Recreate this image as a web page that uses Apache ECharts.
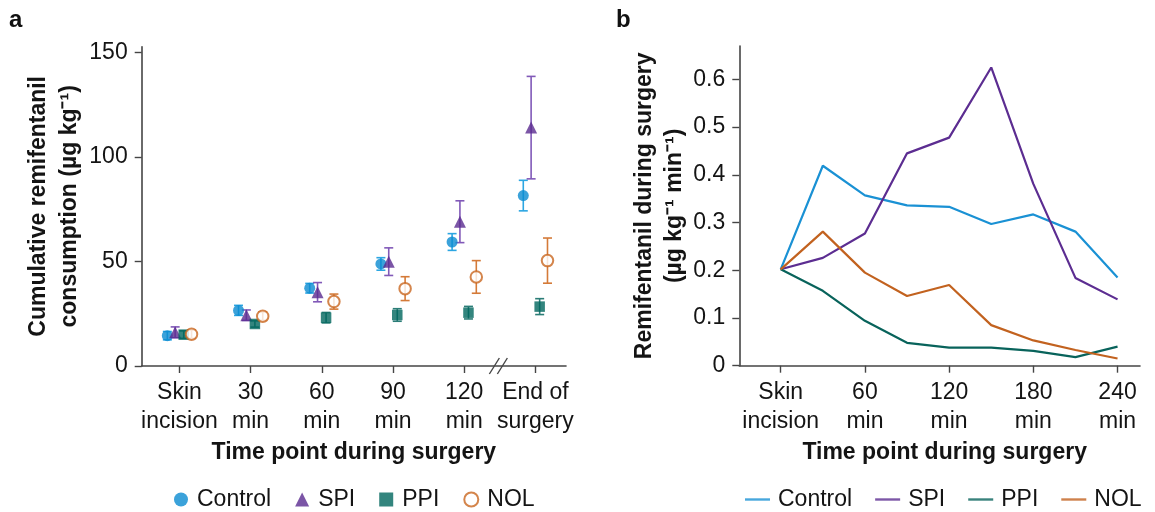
<!DOCTYPE html>
<html><head><meta charset="utf-8">
<script src="https://cdn.jsdelivr.net/npm/echarts@6/dist/echarts.min.js"></script>
<style>html,body{margin:0;padding:0;background:#fff}#c{width:1155px;height:512px}</style>
</head><body><div id="c"></div>
<script>
// ---------- Panel a data ----------
const groupLabels = ['Skin\nincision', '30\nmin', '60\nmin', '90\nmin', '120\nmin', 'End of\nsurgery'];
const controlMean = [14.5, 26.6, 37.2, 48.8, 59.3, 81.5];
const controlErr  = [2.0, 2.4, 2.3, 3.0, 4.0, 7.3];
const spiMean     = [16.1, 24.3, 35.3, 49.9, 69.0, 114.0];
const spiErr      = [2.6, 2.5, 4.6, 6.6, 10.0, 24.5];
const ppiMean     = [15.0, 20.1, 23.1, 24.4, 25.5, 28.4];
const ppiErr      = [1.8, 1.5, 2.5, 3.0, 3.0, 3.8];
const nolMean     = [15.2, 23.8, 30.8, 37.0, 42.6, 50.4];
const nolErr      = [2.0, 2.0, 3.6, 5.7, 7.8, 10.8];
const yTicksA     = [0, 50, 100, 150];

// ---------- Panel b data ----------
const timeMin     = [0, 30, 60, 90, 120, 150, 180, 210, 240];
const timeTicks   = [0, 60, 120, 180, 240];
const timeLabels  = ['Skin\nincision', '60\nmin', '120\nmin', '180\nmin', '240\nmin'];
const controlRate = [0.202, 0.419, 0.357, 0.336, 0.333, 0.297, 0.317, 0.281, 0.185];
const spiRate     = [0.202, 0.226, 0.277, 0.445, 0.478, 0.625, 0.381, 0.184, 0.139];
const ppiRate     = [0.202, 0.157, 0.094, 0.048, 0.038, 0.038, 0.031, 0.018, 0.040];
const nolRate     = [0.202, 0.281, 0.195, 0.146, 0.169, 0.085, 0.053, 0.033, 0.015];
const yTicksB     = [0, 0.1, 0.2, 0.3, 0.4, 0.5, 0.6];

const seriesNames = ['Control', 'SPI', 'PPI', 'NOL'];

// ---------- styles ----------
const FONT = "'Liberation Sans', Arial, sans-serif";
const TXT = '#141414';
const AX = '#454545';
const C = {
  Control: { mark: '#0a8bd1', bar: '#2ca6e2', line: '#1a91d4' },
  SPI:     { mark: '#5a2b90', bar: '#8159b8', line: '#5c2d91' },
  PPI:     { mark: '#00665e', bar: '#2b7d77', line: '#08635b' },
  NOL:     { mark: '#c9661f', bar: '#d47a38', line: '#c2621f' }
};
const OFFSETS = [-0.17, -0.06, 0.06, 0.17];

const chart = echarts.init(document.getElementById('c'), null, { renderer: 'canvas' });

function scatterSeries(name, means, off, symbol, size) {
  const isEmpty = symbol === 'emptyCircle';
  return {
    type: 'scatter', name, xAxisIndex: 0, yAxisIndex: 0,
    symbol, symbolSize: size,
    data: means.map((m, i) => [i + off, m]),
    itemStyle: isEmpty ? { color: C[name].mark, borderColor: C[name].mark, borderWidth: 1.6 }
                       : { color: C[name].mark },
    z: 3, silent: true
  };
}
function errSeries(name, means, errs, off) {
  const col = C[name].bar;
  return {
    type: 'custom', name: name + ' SD', xAxisIndex: 0, yAxisIndex: 0,
    data: means.map((m, i) => [i + off, m - errs[i], m + errs[i]]),
    encode: { x: 0, y: [1, 2] },
    renderItem(params, api) {
      const x = api.value(0);
      const lo = api.coord([x, api.value(1)]);
      const hi = api.coord([x, api.value(2)]);
      const w = 4.5;
      const st = { stroke: col, lineWidth: 1.6 };
      return { type: 'group', children: [
        { type: 'line', shape: { x1: lo[0], y1: lo[1], x2: hi[0], y2: hi[1] }, style: st },
        { type: 'line', shape: { x1: lo[0] - w, y1: lo[1], x2: lo[0] + w, y2: lo[1] }, style: st },
        { type: 'line', shape: { x1: hi[0] - w, y1: hi[1], x2: hi[0] + w, y2: hi[1] }, style: st }
      ]};
    },
    z: 2, silent: true
  };
}
function lineSeries(name, vals) {
  return {
    type: 'line', name, xAxisIndex: 1, yAxisIndex: 1,
    data: timeMin.map((t, i) => [t, vals[i]]),
    showSymbol: false, symbol: 'none',
    lineStyle: { color: C[name].line, width: 2.2 },
    itemStyle: { color: C[name].line },
    silent: true
  };
}

const axisLineStyle = { show: true, onZero: false, lineStyle: { color: AX, width: 1.6 } };
const tickStyle = (len) => ({ show: true, length: len, lineStyle: { color: AX, width: 1.4 } });

const option = {
  backgroundColor: '#fff',
  animation: false,
  textStyle: { fontFamily: FONT },
  grid: [
    { left: 141.7, top: 46.7, width: 424.3, height: 319.3 },
    { left: 739.3, top: 46, width: 400.7, height: 319.7 }
  ],
  xAxis: [
    {
      type: 'value', gridIndex: 0, min: -0.53, max: 5.43,
      axisLine: axisLineStyle,
      axisTick: Object.assign(tickStyle(7), { customValues: [0, 1, 2, 3, 4, 5] }),
      axisLabel: { customValues: [0, 1, 2, 3, 4, 5], formatter: v => groupLabels[Math.round(v)],
        fontSize: 23, lineHeight: 29, color: TXT, fontFamily: FONT, margin: 12 },
      splitLine: { show: false },
      name: 'Time point during surgery', nameLocation: 'middle', nameGap: 75,
      nameTextStyle: { fontSize: 23, fontWeight: 'bold', color: TXT, fontFamily: FONT }
    },
    {
      type: 'value', gridIndex: 1, min: -29.5, max: 256,
      axisLine: axisLineStyle,
      axisTick: Object.assign(tickStyle(7), { customValues: timeTicks }),
      axisLabel: { customValues: timeTicks, formatter: v => timeLabels[timeTicks.indexOf(v)],
        fontSize: 23, lineHeight: 29, color: TXT, fontFamily: FONT, margin: 12 },
      splitLine: { show: false },
      name: 'Time point during surgery', nameLocation: 'middle', nameGap: 75,
      nameTextStyle: { fontSize: 23, fontWeight: 'bold', color: TXT, fontFamily: FONT, padding: [0, 0, 0, 10] }
    }
  ],
  yAxis: [
    {
      type: 'value', gridIndex: 0, min: 0, max: 152.7,
      axisLine: axisLineStyle,
      axisTick: Object.assign(tickStyle(7), { customValues: yTicksA }),
      axisLabel: { customValues: yTicksA, fontSize: 23, color: TXT, fontFamily: FONT, margin: 14 },
      splitLine: { show: false },
      name: 'Cumulative remifentanil\nconsumption (µg kg⁻¹)', nameLocation: 'middle', nameRotate: 90,
      nameGap: 57,
      nameTextStyle: { fontSize: 23, fontWeight: 'bold', color: TXT, fontFamily: FONT, lineHeight: 31 }
    },
    {
      type: 'value', gridIndex: 1, min: 0, max: 0.67,
      axisLine: axisLineStyle,
      axisTick: Object.assign(tickStyle(7), { customValues: yTicksB }),
      axisLabel: { customValues: yTicksB, fontSize: 23, color: TXT, fontFamily: FONT, margin: 14,
        formatter: v => (v === 0 ? '0' : v.toFixed(1)) },
      splitLine: { show: false },
      name: 'Remifentanil during surgery\n(µg kg⁻¹ min⁻¹)', nameLocation: 'middle', nameRotate: 90,
      nameGap: 46,
      nameTextStyle: { fontSize: 23, fontWeight: 'bold', color: TXT, fontFamily: FONT, lineHeight: 30 }
    }
  ],
  legend: [
    {
      left: 169, top: 483, itemWidth: 14, itemHeight: 14, itemGap: 24,
      selectedMode: false,
      textStyle: { fontSize: 23, color: TXT, fontFamily: FONT, padding: [0, 0, 0, 4] },
      data: [
        { name: 'Control', icon: 'circle' },
        { name: 'SPI', icon: 'triangle' },
        { name: 'PPI', icon: 'rect' },
        { name: 'NOL', icon: 'emptyCircle' }
      ]
    },
    {
      left: 740, top: 483, itemWidth: 25, itemHeight: 2.4, itemGap: 23,
      selectedMode: false, icon: 'rect',
      textStyle: { fontSize: 23, color: TXT, fontFamily: FONT, padding: [0, 0, 0, 3] },
      data: seriesNames.map(n => ({ name: n, icon: 'rect', itemStyle: { color: C[n].line, borderWidth: 0 } }))
    }
  ],
  series: [
    scatterSeries('Control', controlMean, OFFSETS[0], 'circle', 11),
    scatterSeries('SPI', spiMean, OFFSETS[1], 'triangle', 12),
    scatterSeries('PPI', ppiMean, OFFSETS[2], 'rect', 10.5),
    scatterSeries('NOL', nolMean, OFFSETS[3], 'emptyCircle', 11.5),
    errSeries('Control', controlMean, controlErr, OFFSETS[0]),
    errSeries('SPI', spiMean, spiErr, OFFSETS[1]),
    errSeries('PPI', ppiMean, ppiErr, OFFSETS[2]),
    errSeries('NOL', nolMean, nolErr, OFFSETS[3]),
    lineSeries('Control', controlRate),
    lineSeries('SPI', spiRate),
    lineSeries('PPI', ppiRate),
    lineSeries('NOL', nolRate)
  ]
};
chart.setOption(option);

// axis break mark ("//") on panel a x axis, placed through the axis scale
const bx = chart.convertToPixel({ xAxisIndex: 0 }, 4.48);
const by = chart.convertToPixel({ yAxisIndex: 0 }, 0);
const slash = (dx) => ({
  type: 'line', silent: true,
  shape: { x1: bx + dx - 5, y1: by + 8, x2: bx + dx + 5, y2: by - 8 },
  style: { stroke: AX, lineWidth: 1.4 }
});
chart.setOption({
  graphic: [
    { type: 'rect', silent: true, shape: { x: bx - 4, y: by - 2, width: 7, height: 4 }, style: { fill: '#fff' } },
    slash(-4), slash(4),
    { type: 'text', left: 9, top: 8, silent: true,
      style: { text: 'a', fontSize: 24, fontWeight: 'bold', fill: '#111', fontFamily: FONT } },
    { type: 'text', left: 616, top: 8, silent: true,
      style: { text: 'b', fontSize: 24, fontWeight: 'bold', fill: '#111', fontFamily: FONT } }
  ]
});
</script>
</body></html>
